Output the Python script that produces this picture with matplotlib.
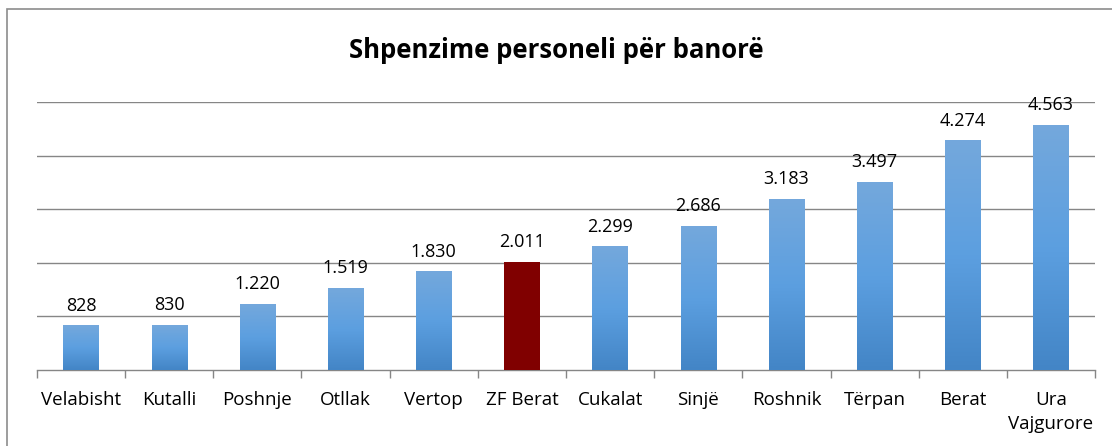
import matplotlib
matplotlib.use("Agg")
import matplotlib.pyplot as plt
import numpy as np
from matplotlib.colors import LinearSegmentedColormap
from matplotlib.patches import Rectangle

categories = ["Velabisht", "Kutalli", "Poshnje", "Otllak", "Vertop", "ZF Berat",
              "Cukalat", "Sinjë", "Roshnik", "Tërpan", "Berat", "Ura\nVajgurore"]
values = [828, 830, 1220, 1519, 1830, 2011, 2299, 2686, 3183, 3497, 4274, 4563]
highlight = "ZF Berat"
title = "Shpenzime personeli për banorë"

plt.rcParams['font.family'] = ['Open Sans', 'DejaVu Sans']

fig = plt.figure(figsize=(11.12, 4.46), dpi=100)
ax = fig.add_axes([37/1112, 76/446, (1095-37)/1112, (370-102)/446])

# chart frame
fig.patches.append(Rectangle((7/1112, -0.05), 1.2, (446-9)/446 + 0.05,
                             transform=fig.transFigure, fill=False,
                             edgecolor='#8c8c8c', linewidth=1.2))

x = np.arange(len(categories))
width = 0.4
cmap = LinearSegmentedColormap.from_list("blues", ["#4385c6", "#5c9fe0", "#74a8dc"])
grad = np.linspace(0, 1, 256).reshape(-1, 1)

bars = ax.bar(x, values, width=width, color='none', edgecolor='none', zorder=3)
for xi, v, cat, b in zip(x, values, categories, bars):
    if cat == highlight:
        b.set_facecolor('#800000')
    else:
        ax.imshow(grad, cmap=cmap, aspect='auto', origin='lower',
                  extent=(xi - width/2, xi + width/2, 0, v), zorder=3)
    ax.annotate(f"{v:,}".replace(",", "."), (xi, v), xytext=(0, 8),
                textcoords='offset points', ha='center', va='bottom',
                fontsize=13, color='#000000')

ax.set_xlim(-0.5, len(categories) - 0.5)
ax.set_ylim(0, 5000)
ax.set_yticks([1000, 2000, 3000, 4000, 5000])
ax.yaxis.grid(True, color='#868686', linewidth=1)
ax.set_axisbelow(True)
ax.tick_params(axis='y', left=False, labelleft=False)
for s in ['top', 'right', 'left']:
    ax.spines[s].set_visible(False)
ax.spines['bottom'].set_color('#868686')
ax.spines['bottom'].set_linewidth(1)

ax.set_xticks(x)
ax.set_xticklabels(categories, fontsize=13.5, linespacing=1.45)
ax.tick_params(axis='x', length=0, pad=15)
ax.set_xticks(np.arange(-0.5, len(categories)), minor=True)
ax.tick_params(axis='x', which='minor', length=6, color='#868686', width=1)

fig.text(0.5, (446-50)/446, title, ha='center', va='center',
         fontsize=18.5, fontweight='bold')

fig.savefig("out.png", dpi=100)
